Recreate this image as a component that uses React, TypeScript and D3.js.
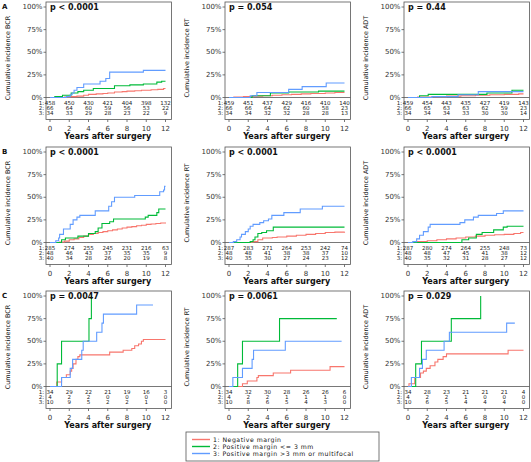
import React from "react";
import * as d3 from "d3";

const W = 531;
const H = 462;
const FONT = "'DejaVu Sans', sans-serif";
const COLORS = ["#F8766D", "#00BA38", "#619CFF"];
const YEAR_TICKS = [0, 2, 4, 6, 8, 10, 12];
const PCT_TICKS = [0, 25, 50, 75, 100];
const ROW_LETTERS = ["A", "B", "C"];
const ENDPOINTS = ["BCR", "RT", "ADT"];
const P_VALUES = [
  ["p < 0.0001", "p = 0.054", "p = 0.44"],
  ["p < 0.0001", "p < 0.0001", "p < 0.0001"],
  ["p = 0.0047", "p = 0.0061", "p = 0.029"],
];
const LEGEND_LABELS = [
  "1: Negative margin",
  "2: Positive margin <= 3 mm",
  "3: Positive margin >3 mm or multifocal",
];

// ---- curves: [years, cumulative incidence %] ----
// Row A
const aBcr1 = [[0, 0], [1.5, 0.5], [2, 1], [2.8, 1.5], [3.5, 2.5], [4, 3.5], [4.8, 4], [5.5, 4.5], [6, 5], [6.7, 6], [7.5, 6.5], [8, 7], [8.8, 7.5], [9.5, 8], [10.5, 8.5], [11.2, 9], [11.8, 10], [12, 10]];
const aBcr2 = [[0, 0], [0.5, 1], [1.3, 2.5], [2.2, 5], [2.9, 6.5], [3.5, 8], [4.5, 10], [6.7, 13], [8.3, 14], [9.7, 15], [11.1, 17], [11.6, 18], [12, 18]];
const aBcr3 = [[0, 0], [1.7, 1], [2.1, 3], [2.3, 5], [2.5, 8], [2.8, 11], [3.5, 15], [5.2, 18], [5.8, 21], [6.2, 28], [9.7, 30], [12, 30]];
const aRt1 = [[0, 0], [0.5, 0.5], [1.5, 1], [2.5, 1.5], [3.5, 2], [4.5, 2.5], [5.5, 3], [6.5, 3.5], [7.5, 4], [8.5, 4.5], [10, 5], [11, 5.5], [12, 5.5]];
const aRt2 = [[0, 0], [2.4, 2], [4.3, 5], [6.2, 6], [9.3, 7], [12, 7]];
const aRt3 = [[0, 0], [2.2, 2], [2.9, 5.5], [6.2, 9], [7.6, 12], [10.1, 16], [12, 16]];
const aAdt1 = [[0, 0], [1, 0.5], [2.5, 1], [4, 1.5], [5.5, 2], [7, 2.5], [8.5, 3], [10, 3.5], [11.5, 4], [12, 4]];
const aAdt2 = [[0, 0], [1.2, 2], [2.1, 3.5], [8.2, 5], [10.8, 8], [12, 8]];
const aAdt3 = [[0, 0], [2.5, 1], [5.2, 3], [7.3, 6.5], [12, 6.5]];
// Row B
const bBcr1 = [[0, 0], [1, 0.5], [1.5, 1.5], [2, 3], [2.5, 4], [3, 5.5], [3.5, 7], [4, 9], [4.5, 10], [5, 11], [5.5, 12], [6, 13], [6.5, 14], [7, 15], [7.5, 16], [8, 17], [8.5, 17.5], [9, 18.5], [9.5, 19], [10, 20], [10.5, 20.5], [11, 21], [11.5, 21.5], [12, 22]];
const bBcr2 = [[0, 0], [1.2, 3], [1.6, 5], [2.9, 7], [4.0, 10], [4.7, 12], [5.0, 16], [5.4, 21], [6.2, 23], [6.6, 26], [9.9, 28], [10.2, 30], [11.1, 33], [11.3, 37], [12, 37]];
const bBcr3 = [[0, 0], [0.6, 2], [0.9, 5], [1.0, 9], [1.4, 15], [2.1, 20], [2.4, 25], [2.8, 28], [3.1, 30], [4.7, 35], [6.1, 40], [6.4, 45], [6.7, 50], [8.8, 52], [11.4, 56], [11.8, 58], [11.9, 62], [12, 62]];
const bRt1 = [[0, 0], [2.5, 1], [3, 3], [3.5, 5], [4.5, 5.5], [5, 6], [6, 7], [7, 8], [8, 9], [9, 10], [10, 11], [11, 11.5], [12, 12]];
const bRt2 = [[0, 0], [2.2, 1], [2.5, 3], [2.7, 6], [3.0, 10], [3.4, 11], [3.9, 13], [4.6, 17], [12, 17]];
const bRt3 = [[0, 0], [0.45, 1], [0.8, 3], [1.15, 6], [1.3, 9], [1.7, 12], [2.0, 15], [2.2, 18], [2.5, 20], [3.2, 22], [3.6, 24], [4.1, 26], [4.45, 30], [5.7, 33], [7.4, 37], [9.7, 40], [12, 40]];
const bAdt1 = [[0, 0], [0.5, 0.5], [1, 1], [2, 2], [3, 3], [4, 4], [5, 5], [6, 6], [7, 7], [8, 8], [9, 8.5], [10, 9], [11, 10], [11.7, 11], [12, 11]];
const bAdt2 = [[0, 0], [5.6, 3], [6.3, 5], [7.1, 9], [7.7, 11], [8.9, 14], [9.9, 17], [10.3, 18], [12, 18]];
const bAdt3 = [[0, 0], [0.5, 1], [0.9, 4], [1.2, 8], [1.6, 12], [2.1, 17], [2.3, 20], [5.4, 22], [5.9, 25], [6.8, 28], [7.3, 30], [9.2, 32], [9.9, 35], [12, 35]];
// Row C
const cBcr1 = [[0, 0], [0.7, 5], [1.2, 10], [1.7, 13], [2.1, 17], [2.25, 20], [2.4, 25], [2.7, 30], [2.9, 33], [3.1, 35], [6.2, 38], [7.6, 40], [8.5, 42], [8.8, 45], [9.2, 47], [9.5, 50], [9.7, 52], [12, 52]];
const cBcr2 = [[0, 0], [0.75, 25], [1.2, 50], [4.05, 75], [4.3, 100]];
const cBcr3 = [[0, 0], [1.2, 10], [2.1, 20], [2.35, 30], [3.3, 40], [3.45, 50], [4.85, 60], [5.4, 70], [5.55, 80], [9.0, 90], [10.7, 90]];
const cRt1 = [[0, 0], [1.4, 3], [1.9, 6], [2.9, 10], [3.05, 12], [4.6, 15], [6.4, 18], [10.5, 22], [12, 22]];
const cRt2 = [[0, 0], [0.9, 25], [1.4, 50], [5.25, 75], [11.2, 75]];
const cRt3 = [[0, 0], [0.4, 10], [1.4, 20], [2.4, 30], [2.55, 40], [5.85, 50], [11.7, 50]];
const cAdt1 = [[0, 0], [0.1, 3], [0.7, 10], [1.3, 15], [1.6, 17], [1.9, 20], [2.3, 23], [2.8, 27], [3.1, 30], [3.65, 33], [4.0, 36], [10.4, 40], [12, 40]];
const cAdt2 = [[0, 0], [0.8, 25], [1.4, 50], [4.5, 75], [7.55, 100]];
const cAdt3 = [[0, 0], [0.35, 10], [1.2, 20], [1.5, 30], [1.9, 40], [3.75, 50], [4.3, 60], [10.25, 70], [11.1, 70]];

// ---- numbers at risk (years 0,2,...,12) ----
const riskABcr = [[458, 450, 430, 421, 404, 398, 132], [66, 64, 60, 59, 56, 53, 22], [34, 33, 29, 28, 23, 22, 9]];
const riskARt = [[459, 451, 437, 429, 416, 410, 140], [66, 66, 64, 62, 60, 58, 23], [34, 34, 32, 32, 28, 28, 13]];
const riskAAdt = [[459, 454, 443, 435, 427, 419, 143], [66, 65, 63, 63, 62, 59, 23], [34, 34, 34, 33, 30, 30, 14]];
const riskBBcr = [[285, 274, 255, 245, 231, 216, 63], [48, 46, 43, 37, 35, 35, 9], [40, 34, 28, 26, 20, 19, 8]];
const riskBRt = [[287, 283, 271, 264, 253, 242, 74], [48, 48, 41, 38, 38, 37, 10], [40, 35, 30, 27, 24, 23, 12]];
const riskBAdt = [[287, 280, 274, 264, 255, 248, 73], [48, 48, 47, 45, 41, 38, 12], [40, 35, 32, 31, 28, 27, 12]];
const riskCBcr = [[34, 29, 22, 21, 19, 16, 3], [4, 2, 2, 0, 0, 0, 0], [10, 9, 5, 2, 2, 1, 0]];
const riskCRt = [[34, 32, 30, 28, 26, 26, 6], [4, 2, 2, 1, 1, 1, 0], [10, 8, 6, 5, 4, 3, 0]];
const riskCAdt = [[34, 28, 23, 21, 21, 21, 4], [4, 2, 2, 1, 0, 0, 0], [10, 6, 5, 4, 4, 4, 0]];

const CURVES = [
  [[aBcr1, aBcr2, aBcr3], [aRt1, aRt2, aRt3], [aAdt1, aAdt2, aAdt3]],
  [[bBcr1, bBcr2, bBcr3], [bRt1, bRt2, bRt3], [bAdt1, bAdt2, bAdt3]],
  [[cBcr1, cBcr2, cBcr3], [cRt1, cRt2, cRt3], [cAdt1, cAdt2, cAdt3]],
];
const RISK = [
  [riskABcr, riskARt, riskAAdt],
  [riskBBcr, riskBRt, riskBAdt],
  [riskCBcr, riskCRt, riskCAdt],
];

// layout
const COL_X0 = [50, 229, 408];
const ROW_Y100 = [7, 152, 296];
const PLOT_W = 115.5;
const PLOT_H = 90.5;
const BORDER = "#555";

function Panel({ r, c }: { r: number; c: number }) {
  const x = d3.scaleLinear().domain([0, 12]).range([COL_X0[c], COL_X0[c] + PLOT_W]);
  const y = d3.scaleLinear().domain([0, 100]).range([ROW_Y100[r] + PLOT_H, ROW_Y100[r]]);
  const line = d3
    .line<number[]>()
    .x((d) => x(d[0]))
    .y((d) => y(d[1]))
    .curve(d3.curveStepAfter);
  const boxLeft = x(0) - 4;
  const boxRight = x(12) + 6;
  const boxTop = y(100) - 5;
  const y0 = y(0);
  const tableBottom = y0 + 22;
  const cx = (x(0) + x(12)) / 2;
  return (
    <g>
      <rect x={boxLeft} y={boxTop} width={boxRight - boxLeft} height={tableBottom - boxTop} fill="white" stroke={BORDER} strokeWidth={0.8} />
      <line x1={boxLeft} x2={boxRight} y1={y0} y2={y0} stroke={BORDER} strokeWidth={0.8} />
      {PCT_TICKS.map((p) => (
        <g key={p}>
          <line x1={boxLeft - 2.5} x2={boxLeft} y1={y(p)} y2={y(p)} stroke={BORDER} strokeWidth={0.8} />
          <text x={boxLeft - 3.5} y={y(p)} textAnchor="end" dominantBaseline="central" fontSize={7} fill="#333">
            {p}%
          </text>
        </g>
      ))}
      {YEAR_TICKS.map((t) => (
        <g key={t}>
          <line x1={x(t)} x2={x(t)} y1={tableBottom} y2={tableBottom + 2.5} stroke={BORDER} strokeWidth={0.8} />
          <text x={x(t)} y={tableBottom + 9} textAnchor="middle" dominantBaseline="central" fontSize={7} fill="#333">
            {t}
          </text>
        </g>
      ))}
      <text x={cx} y={y0 + 39} textAnchor="middle" dominantBaseline="central" fontSize={8} fontWeight="bold" fill="#111">
        Years after surgery
      </text>
      <text
        transform={`translate(${boxLeft - 38},${ROW_Y100[r] + 51}) rotate(-90)`}
        textAnchor="middle"
        dominantBaseline="central"
        fontSize={6.4}
        fill="#111"
      >
        {`Cumulative incidence ${ENDPOINTS[c]}`}
      </text>
      {CURVES[r][c].map((s, i) => (
        <path key={i} d={line(s) || ""} fill="none" stroke={COLORS[i]} strokeWidth={1.1} />
      ))}
      {RISK[r][c].map((row, i) => (
        <g key={i}>
          <text x={boxLeft - 2} y={y0 + 5.5 + 5 * i} textAnchor="end" dominantBaseline="central" fontSize={5.5} fill="#222">
            {`${i + 1}:`}
          </text>
          {row.map((v, j) => (
            <text key={j} x={x(YEAR_TICKS[j])} y={y0 + 5.5 + 5 * i} textAnchor="middle" dominantBaseline="central" fontSize={5.5} fill="#222">
              {v}
            </text>
          ))}
        </g>
      ))}
      <text x={x(0)} y={y(100)} dominantBaseline="central" fontSize={8} fontWeight="bold" fill="#111">
        {P_VALUES[r][c]}
      </text>
      {c === 0 && (
        <text x={2} y={y(100)} dominantBaseline="central" fontSize={7} fontWeight="bold" fill="#111">
          {ROW_LETTERS[r]}
        </text>
      )}
    </g>
  );
}

export default function App() {
  const legendX = 186;
  const legendY = 432;
  return (
    <svg
      width={W}
      height={H}
      viewBox={`0 0 ${W} ${H}`}
      style={{ position: "absolute", left: 0, top: 0, background: "white", fontFamily: FONT }}
    >
      <rect width={W} height={H} fill="white" />
      {[0, 1, 2].map((r) => [0, 1, 2].map((c) => <Panel key={`${r}-${c}`} r={r} c={c} />))}
      <g>
        <rect x={legendX} y={legendY} width={193} height={29} fill="white" stroke={BORDER} strokeWidth={0.8} />
        {LEGEND_LABELS.map((lab, i) => (
          <g key={i}>
            <line x1={legendX + 6} x2={legendX + 24} y1={legendY + 7.5 + 7 * i} y2={legendY + 7.5 + 7 * i} stroke={COLORS[i]} strokeWidth={1.4} />
            <text x={legendX + 27} y={legendY + 7.5 + 7 * i} dominantBaseline="central" fontSize={6.2} letterSpacing={0.5} fill="#111">
              {lab}
            </text>
          </g>
        ))}
      </g>
    </svg>
  );
}
